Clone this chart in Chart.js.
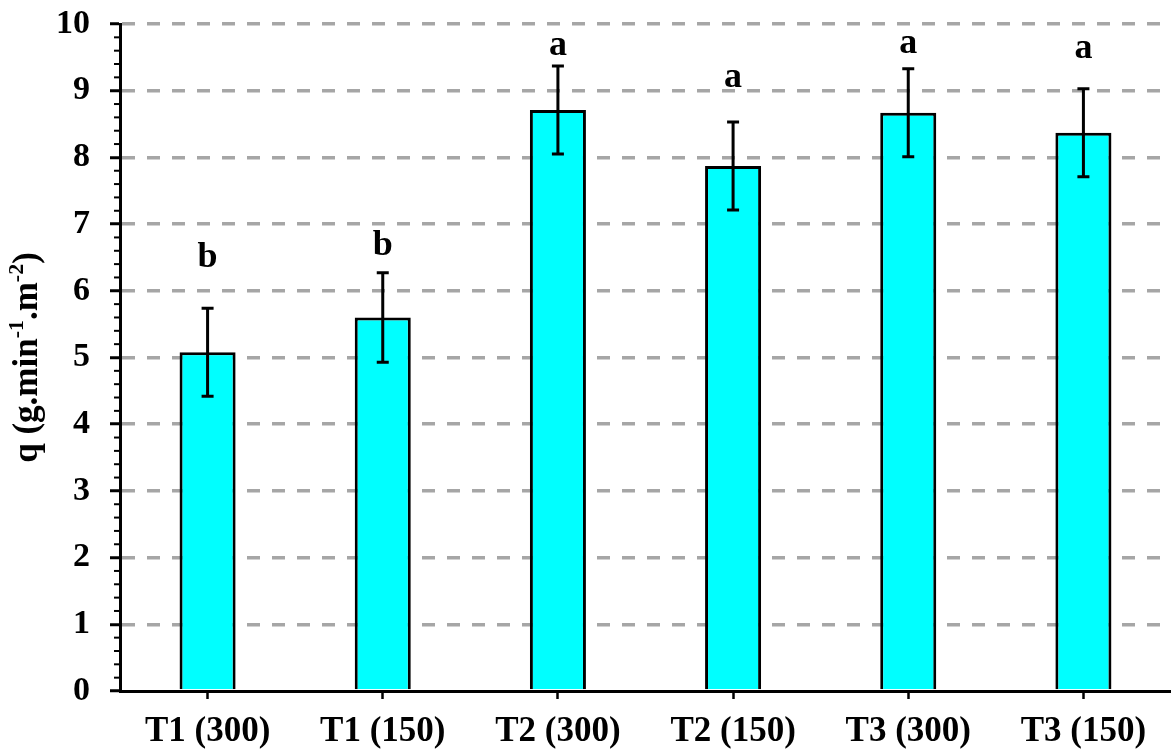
<!DOCTYPE html>
<html>
<head>
<meta charset="utf-8">
<script src="https://cdn.jsdelivr.net/npm/chart.js@4"></script>
<style>
  html, body { margin: 0; padding: 0; background: #fff; }
  #wrap { width: 1171px; height: 756px; }
</style>
</head>
<body>
<div id="wrap"><canvas id="chart"></canvas></div>
<script>
const categories = ['T1 (300)', 'T1 (150)', 'T2 (300)', 'T2 (150)', 'T3 (300)', 'T3 (150)'];
const means = [5.08, 5.60, 8.71, 7.87, 8.67, 8.37];
const errors = [0.66, 0.67, 0.66, 0.66, 0.66, 0.66];
const groupLetters = ['b', 'b', 'a', 'a', 'a', 'a'];
const letterHeights = [6.49, 6.67, 9.67, 9.20, 9.70, 9.63];
const yTicks = [0, 1, 2, 3, 4, 5, 6, 7, 8, 9, 10];

const FONT = '"Liberation Serif", "Times New Roman", serif';

// error bars, group letters, minor ticks and the axis title
const extras = {
    id: 'extras',
    afterDatasetsDraw(chart) {
        const { ctx, scales: { y } } = chart;
        const bars = chart.getDatasetMeta(0).data;
        ctx.save();
        ctx.strokeStyle = '#000';
        ctx.lineWidth = 3;
        bars.forEach((bar, i) => {
            const top = y.getPixelForValue(means[i] + errors[i]);
            const bot = y.getPixelForValue(means[i] - errors[i]);
            ctx.beginPath();
            ctx.moveTo(bar.x, top); ctx.lineTo(bar.x, bot);
            ctx.moveTo(bar.x - 6, top); ctx.lineTo(bar.x + 6, top);
            ctx.moveTo(bar.x - 6, bot); ctx.lineTo(bar.x + 6, bot);
            ctx.stroke();
        });
        ctx.fillStyle = '#000';
        ctx.font = 'bold 36px ' + FONT;
        ctx.textAlign = 'center';
        ctx.textBaseline = 'middle';
        bars.forEach((bar, i) => {
            ctx.fillText(groupLetters[i], bar.x, y.getPixelForValue(letterHeights[i]));
        });
        ctx.restore();
    },
    afterDraw(chart) {
        const { ctx, scales: { y }, chartArea } = chart;
        ctx.save();
        ctx.strokeStyle = '#000';
        ctx.lineWidth = 2;
        for (let k = 0; k <= 50; k++) {
            if (k % 5 === 0) continue;
            const py = y.getPixelForValue(k / 5);
            ctx.beginPath();
            ctx.moveTo(chartArea.left - 6, py);
            ctx.lineTo(chartArea.left, py);
            ctx.stroke();
        }
        // y title with superscripts
        const parts = [
            ['q (g.min', false], ['-1', true], ['.m', false], ['-2', true], [')', false]
        ];
        const big = 'bold 35px ' + FONT, small = 'bold 22px ' + FONT;
        let total = 0;
        parts.forEach(([t, sup]) => { ctx.font = sup ? small : big; total += ctx.measureText(t).width; });
        ctx.translate(37, (chartArea.top + chartArea.bottom) / 2);
        ctx.rotate(-Math.PI / 2);
        ctx.fillStyle = '#000';
        ctx.textBaseline = 'alphabetic';
        ctx.textAlign = 'left';
        let x = -total / 2;
        parts.forEach(([t, sup]) => {
            ctx.font = sup ? small : big;
            ctx.fillText(t, x, sup ? -14 : 0);
            x += ctx.measureText(t).width;
        });
        ctx.restore();
    }
};

new Chart(document.getElementById('chart'), {
    type: 'bar',
    data: {
        labels: categories,
        datasets: [{
            data: means,
            backgroundColor: '#00ffff',
            borderColor: '#000',
            borderWidth: 3,
            borderSkipped: 'bottom',
            barPercentage: 0.64,
            categoryPercentage: 0.5
        }]
    },
    options: {
        responsive: true,
        maintainAspectRatio: false,
        animation: false,
        layout: { padding: { top: 24, right: 0, left: 0, bottom: 0 } },
        plugins: {
            legend: { display: false },
            tooltip: { enabled: false }
        },
        scales: {
            x: {
                grid: { offset: false, drawOnChartArea: false, drawTicks: true, tickLength: 8, tickWidth: 2.5, tickColor: '#000' },
                border: { display: true, color: '#000', width: 3 },
                ticks: { color: '#000', padding: 12, font: { family: FONT, size: 35, weight: 'bold' } },
                afterFit(scale) { scale.height = 65; scale.paddingLeft = 0; scale.paddingRight = 0; }
            },
            y: {
                min: 0,
                max: 10,
                afterBuildTicks(scale) { scale.ticks = yTicks.map(v => ({ value: v })); },
                grid: {
                    color: ctx => ctx.tick && ctx.tick.value === 0 ? 'rgba(0,0,0,0)' : '#a6a6a6',
                    lineWidth: 3.5,
                    drawTicks: true,
                    tickLength: 10,
                    tickWidth: 3,
                    tickColor: '#000'
                },
                border: { display: true, color: '#000', width: 3, dash: [13, 12] },
                ticks: { color: '#000', padding: 20, font: { family: FONT, size: 34, weight: 'bold' } },
                afterFit(scale) { scale.width = 120; scale.paddingTop = 0; scale.paddingBottom = 0; }
            }
        }
    },
    plugins: [extras]
});
</script>
</body>
</html>
